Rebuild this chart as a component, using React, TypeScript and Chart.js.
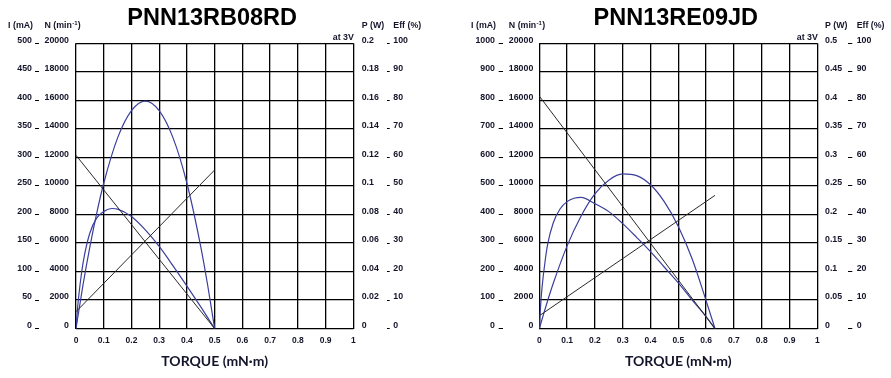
import React, { useEffect, useRef } from 'react';
import { Chart, registerables } from 'chart.js';

Chart.register(...registerables);

// ---------- shared tick labels ----------
const torqueTicks = ['0', '0.1', '0.2', '0.3', '0.4', '0.5', '0.6', '0.7', '0.8', '0.9', '1'];
const speedTicks = ['0', '2000', '4000', '6000', '8000', '10000', '12000', '14000', '16000', '18000', '20000'];
const effTicks = ['0', '10', '20', '30', '40', '50', '60', '70', '80', '90', '100'];

// ---------- PNN13RB08RD (left) ----------
const leftTitle = 'PNN13RB08RD';
const leftCurrentTicks = ['0', '50', '100', '150', '200', '250', '300', '350', '400', '450', '500'];
const leftPowerTicks = ['0', '0.02', '0.04', '0.06', '0.08', '0.1', '0.12', '0.14', '0.16', '0.18', '0.2'];
const leftSpeedTorque = [0, 0.5];
const leftSpeed = [12150, 0];
const leftCurrentTorque = [0, 0.5];
const leftCurrent = [29.6, 278];
const leftPowerTorque = [0, 0.025, 0.05, 0.075, 0.1, 0.15, 0.2, 0.25, 0.3, 0.35, 0.4, 0.45, 0.475, 0.5];
const leftPower = [0, 0.0303, 0.0573, 0.0812, 0.1019, 0.1337, 0.1528, 0.1595, 0.1528, 0.1337, 0.1019, 0.0573, 0.0302, 0];
const leftEffTorque = [0, 0.005, 0.01, 0.02, 0.03, 0.05, 0.075, 0.1, 0.13, 0.15, 0.2, 0.25, 0.3, 0.35, 0.4, 0.45, 0.5];
const leftEff = [0, 6.4, 11.5, 19.5, 25.5, 33.5, 38.8, 41, 42.1, 41.9, 39.3, 34.6, 28.8, 22, 14.9, 7.6, 0];

// ---------- PNN13RE09JD (right) ----------
const rightTitle = 'PNN13RE09JD';
const rightCurrentTicks = ['0', '100', '200', '300', '400', '500', '600', '700', '800', '900', '1000'];
const rightPowerTicks = ['0', '0.05', '0.1', '0.15', '0.2', '0.25', '0.3', '0.35', '0.4', '0.45', '0.5'];
const rightSpeedTorque = [0, 0.632];
const rightSpeed = [16300, 0];
const rightCurrentTorque = [0, 0.632];
const rightCurrent = [45, 467];
const rightPowerTorque = [0, 0.025, 0.05, 0.1, 0.15, 0.2, 0.25, 0.3, 0.35, 0.4, 0.45, 0.5, 0.55, 0.6, 0.632];
const rightPower = [0, 0.041, 0.079, 0.145, 0.197, 0.236, 0.26, 0.271, 0.268, 0.252, 0.222, 0.179, 0.122, 0.049, 0];
const rightEffTorque = [0, 0.005, 0.01, 0.02, 0.03, 0.05, 0.075, 0.1, 0.125, 0.15, 0.2, 0.25, 0.3, 0.35, 0.4, 0.45, 0.5, 0.55, 0.6, 0.632];
const rightEff = [0, 8.5, 14.5, 23, 29.5, 37, 42, 44.5, 45.7, 46, 43.8, 41, 36.8, 32, 27, 21.5, 16, 10, 4.2, 0];

const xTitle = 'TORQUE (mN·m)';
const voltageNote = 'at 3V';

// ---------- styling ----------
const FONT = "'Liberation Sans', Arial, Helvetica, sans-serif";
const TEXT = '#14142a';
const BLUE = '#3b3f9c';
const DARK = '#2a2a2a';

const pts = (xs: number[], ys: number[]) => xs.map((x, i) => ({ x, y: ys[i] }));
const range = (t: string[]) => ({ min: Number(t[0]), max: Number(t[t.length - 1]), step: Number(t[1]) - Number(t[0]) });

const panels = [
  {
    title: leftTitle,
    currentTicks: leftCurrentTicks,
    powerTicks: leftPowerTicks,
    speed: pts(leftSpeedTorque, leftSpeed),
    current: pts(leftCurrentTorque, leftCurrent),
    power: pts(leftPowerTorque, leftPower),
    eff: pts(leftEffTorque, leftEff),
    lay: { x: 0, w: 445, top: 43.3, xH: 49.4, wI: 39, wN: 37, wP: 33.4, wE: 58.3, tlI: 4, padI: 3, padN: 7, padP: 8.4, tlE: 3, padE: 3.6 },
  },
  {
    title: rightTitle,
    currentTicks: rightCurrentTicks,
    powerTicks: rightPowerTicks,
    speed: pts(rightSpeedTorque, rightSpeed),
    current: pts(rightCurrentTorque, rightCurrent),
    power: pts(rightPowerTorque, rightPower),
    eff: pts(rightEffTorque, rightEff),
    lay: { x: 445, w: 446, top: 43.3, xH: 49.4, wI: 57.7, wN: 36.6, wP: 31, wE: 42.7, tlI: 4, padI: 3.7, padN: 6, padP: 7.7, tlE: 4, padE: 4.4 },
  },
];

type PanelCfg = typeof panels[number];

function buildConfig(p: PanelCfg): any {
  const L = p.lay;
  const tickFont = { family: FONT, size: 8.8, weight: 'bold' as const };
  const rI = range(p.currentTicks);
  const rN = range(speedTicks);
  const rP = range(p.powerTicks);
  const rE = range(effTicks);
  const rX = range(torqueTicks);

  const textPlugin = {
    id: 'panelText',
    afterDraw(chart: any) {
      const ctx = chart.ctx;
      const ca = chart.chartArea;
      const s = chart.scales;
      ctx.save();
      ctx.fillStyle = '#000';
      ctx.textBaseline = 'alphabetic';
      // title
      ctx.font = `bold 23.5px ${FONT}`;
      ctx.textAlign = 'center';
      ctx.fillText(p.title, (ca.left + ca.right) / 2 - 2.5, 25);
      // headers
      ctx.fillStyle = TEXT;
      ctx.font = `bold 8.8px ${FONT}`;
      ctx.textAlign = 'right';
      ctx.fillText('I (mA)', s.yI.right - L.tlI - L.padI + 1, 28);
      ctx.fillText(voltageNote, ca.right + 0.5, ca.top - 3.5);
      ctx.textAlign = 'left';
      const nx = s.yN.right - L.padN - ctx.measureText('20000').width;
      ctx.fillText('N (min', nx, 28);
      const w1 = ctx.measureText('N (min').width;
      ctx.font = `bold 6px ${FONT}`;
      ctx.fillText('-1', nx + w1 + 0.3, 24.5);
      const w2 = ctx.measureText('-1').width;
      ctx.font = `bold 8.8px ${FONT}`;
      ctx.fillText(')', nx + w1 + w2 + 0.6, 28);
      ctx.fillText('P (W)', s.yP.left + L.padP, 28);
      ctx.fillText('Eff (%)', s.yE.left + L.tlE + L.padE, 28);
      ctx.restore();
    },
  };

  const lineDs = (label: string, data: any[], axis: string, color: string, width: number) => ({
    label,
    data,
    yAxisID: axis,
    borderColor: color,
    borderWidth: width,
    pointRadius: 0,
    fill: false,
    cubicInterpolationMode: 'monotone',
  });

  return {
    type: 'line',
    data: {
      datasets: [
        lineDs('N', p.speed, 'yN', DARK, 1),
        lineDs('I', p.current, 'yI', DARK, 1),
        lineDs('P', p.power, 'yP', BLUE, 1.2),
        lineDs('Eff', p.eff, 'yE', BLUE, 1.2),
      ],
    },
    options: {
      animation: false,
      responsive: false,
      maintainAspectRatio: false,
      events: [],
      layout: { padding: { top: L.top, left: 0, right: 0, bottom: 0 } },
      plugins: { legend: { display: false }, tooltip: { enabled: false }, title: { display: false } },
      scales: {
        x: {
          type: 'linear',
          position: 'bottom',
          min: rX.min,
          max: rX.max,
          afterFit: (sc: any) => { sc.height = L.xH; },
          grid: { display: true, drawTicks: false, color: '#000', lineWidth: 1.3 },
          border: { display: false },
          ticks: {
            stepSize: rX.step,
            padding: 7,
            font: { family: FONT, size: 8.5, weight: 'bold' },
            color: TEXT,
            maxRotation: 0,
            autoSkip: false,
            callback: (_v: any, i: number) => torqueTicks[i],
          },
          title: {
            display: true,
            text: xTitle,
            color: TEXT,
            font: { family: "Lato, 'Open Sans', sans-serif", size: 14, weight: 'bold' },
            padding: { top: 0, bottom: 8 },
          },
        },
        yI: {
          type: 'linear',
          position: 'left',
          weight: 10,
          min: rI.min,
          max: rI.max,
          afterFit: (sc: any) => { sc.width = L.wI; },
          grid: { display: true, drawOnChartArea: false, drawTicks: true, tickLength: L.tlI, color: '#000', lineWidth: 1 },
          border: { display: false },
          ticks: { stepSize: rI.step, padding: L.padI, labelOffset: -3, font: tickFont, color: TEXT, autoSkip: false, callback: (_v: any, i: number) => p.currentTicks[i] },
        },
        yN: {
          type: 'linear',
          position: 'left',
          weight: 5,
          min: rN.min,
          max: rN.max,
          afterFit: (sc: any) => { sc.width = L.wN; },
          grid: { display: true, drawOnChartArea: true, drawTicks: false, color: '#000', lineWidth: 1.3 },
          border: { display: false },
          ticks: { stepSize: rN.step, padding: L.padN, labelOffset: -3, font: tickFont, color: TEXT, autoSkip: false, callback: (_v: any, i: number) => speedTicks[i] },
        },
        yP: {
          type: 'linear',
          position: 'right',
          weight: 5,
          min: rP.min,
          max: rP.max,
          afterFit: (sc: any) => { sc.width = L.wP; },
          grid: { display: false, drawTicks: false },
          border: { display: false },
          ticks: { stepSize: rP.step, padding: L.padP, labelOffset: -3, font: tickFont, color: TEXT, autoSkip: false, callback: (_v: any, i: number) => p.powerTicks[i] },
        },
        yE: {
          type: 'linear',
          position: 'right',
          weight: 10,
          min: rE.min,
          max: rE.max,
          afterFit: (sc: any) => { sc.width = L.wE; },
          grid: { display: true, drawOnChartArea: false, drawTicks: true, tickLength: L.tlE, color: '#000', lineWidth: 1 },
          border: { display: false },
          ticks: { stepSize: rE.step, padding: L.padE, labelOffset: -3, font: tickFont, color: TEXT, autoSkip: false, callback: (_v: any, i: number) => effTicks[i] },
        },
      },
    },
    plugins: [textPlugin],
  };
}

function Panel({ cfg }: { cfg: PanelCfg }) {
  const ref = useRef<HTMLCanvasElement | null>(null);
  useEffect(() => {
    if (!ref.current) return;
    const chart = new Chart(ref.current, buildConfig(cfg));
    return () => chart.destroy();
  }, [cfg]);
  return (
    <canvas
      ref={ref}
      width={cfg.lay.w}
      height={378}
      style={{ position: 'absolute', left: cfg.lay.x, top: 0, width: cfg.lay.w, height: 378 }}
    />
  );
}

export default function App() {
  return (
    <div style={{ position: 'absolute', left: 0, top: 0, width: 891, height: 378, background: '#fff', overflow: 'hidden' }}>
      {panels.map((p) => (
        <Panel key={p.title} cfg={p} />
      ))}
    </div>
  );
}
